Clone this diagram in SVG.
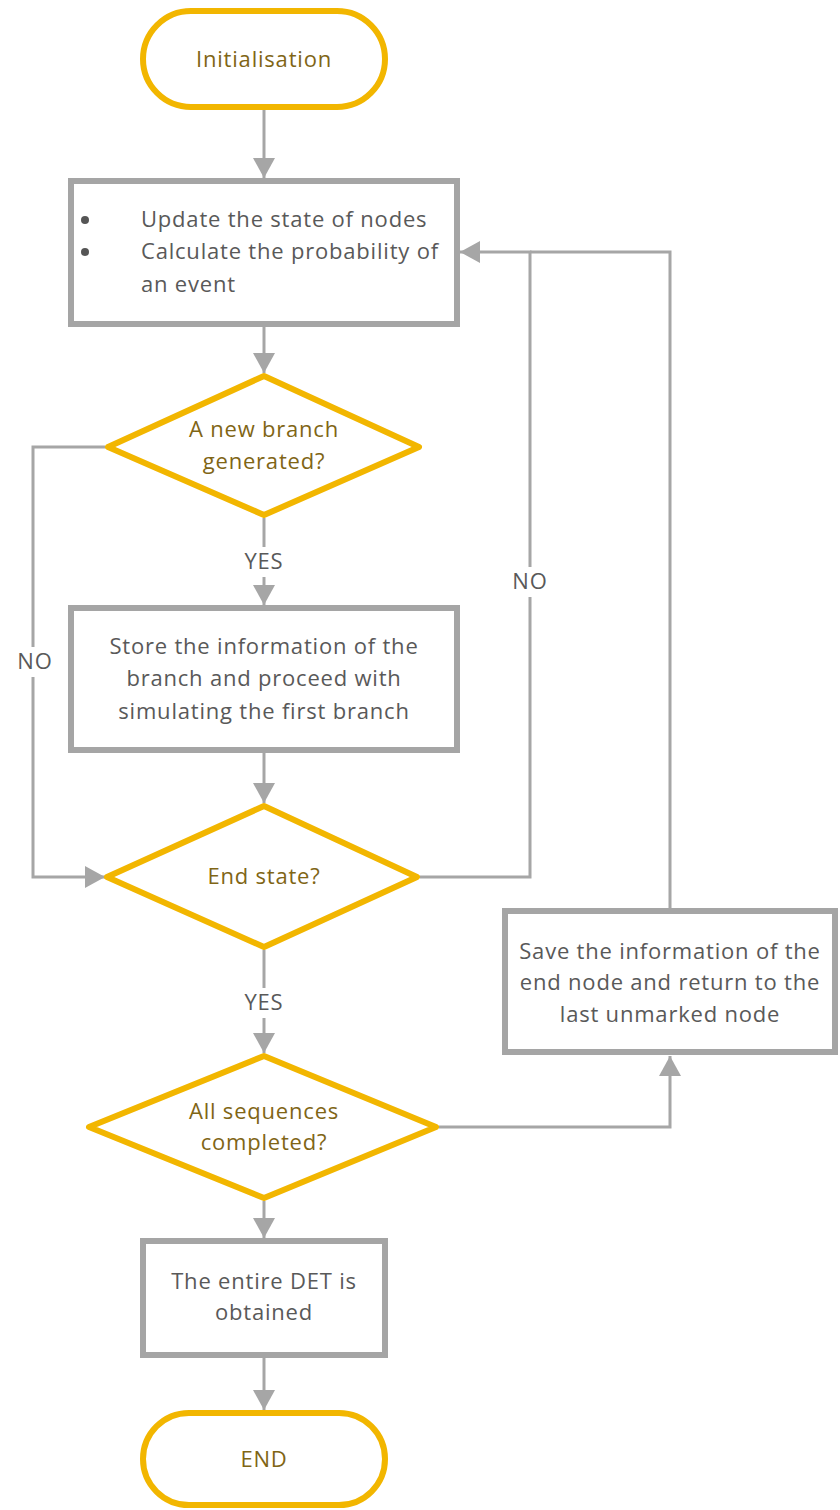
<svg xmlns="http://www.w3.org/2000/svg" width="840" height="1510" viewBox="0 0 840 1510">
<style>
.box{fill:#fff;stroke:#A5A5A5;stroke-width:6}
.term{fill:#fff;stroke:#F2B600;stroke-width:6}
.dia{fill:#fff;stroke:#F2B600;stroke-width:6;stroke-linejoin:round}
.t{font-family:"Open Sans","Liberation Sans",sans-serif;font-size:22px;letter-spacing:0.8px;fill:#595959;text-anchor:middle}
.ty{font-family:"Open Sans","Liberation Sans",sans-serif;font-size:22px;letter-spacing:0.8px;fill:#806515;text-anchor:middle}
.tl{text-anchor:start}
.c{fill:none;stroke:#A6A6A6;stroke-width:3}
.lbg{fill:#fff}
</style>
<defs>
<marker id="ah" markerUnits="userSpaceOnUse" markerWidth="20" markerHeight="22" refX="20" refY="11" orient="auto">
<path d="M0,0 L20,11 L0,22 z" fill="#A6A6A6"/>
</marker>
</defs>
<g id="connectors">
<path class="c" d="M264,110 V178" marker-end="url(#ah)"/>
<path class="c" d="M264,327 V373" marker-end="url(#ah)"/>
<path class="c" d="M264,518 V605" marker-end="url(#ah)"/>
<path class="c" d="M264,753 V803" marker-end="url(#ah)"/>
<path class="c" d="M105,447 H33 V877 H105" marker-end="url(#ah)"/>
<path class="c" d="M670,908 V252 H530"/>
<path class="c" d="M420,877 H530 V252 H460" marker-end="url(#ah)"/>
<path class="c" d="M264,950 V1053" marker-end="url(#ah)"/>
<path class="c" d="M439,1127 H670 V1056" marker-end="url(#ah)"/>
<path class="c" d="M264,1201 V1238" marker-end="url(#ah)"/>
<path class="c" d="M264,1358 V1410" marker-end="url(#ah)"/>
<rect class="lbg" x="240" y="547" width="48" height="30"/>
<text class="t" x="264" y="569">YES</text>
<rect class="lbg" x="240" y="988" width="48" height="30"/>
<text class="t" x="264" y="1010">YES</text>
<rect class="lbg" x="15" y="647" width="40" height="30"/>
<text class="t" x="35" y="669">NO</text>
<rect class="lbg" x="510" y="567" width="40" height="30"/>
<text class="t" x="530" y="589">NO</text>
</g>
<g id="n-init">
<rect class="term" x="143" y="11" width="242" height="96" rx="48" ry="48"/>
<text class="ty" x="264" y="67">Initialisation</text>
</g>
<g id="n-update">
<rect class="box" x="71" y="181" width="386" height="143"/>
<circle cx="85" cy="220" r="4" fill="#555"/>
<circle cx="85" cy="252" r="4" fill="#555"/>
<text class="t tl" x="141" y="227">Update the state of nodes</text>
<text class="t tl" x="141" y="259">Calculate the probability of</text>
<text class="t tl" x="141" y="292">an event</text>
</g>
<g id="n-newbranch">
<polygon class="dia" points="264,376 419,447 264,515 108,447"/>
<text class="ty" x="264" y="437">A new branch</text>
<text class="ty" x="264" y="469">generated?</text>
</g>
<g id="n-store">
<rect class="box" x="71" y="608" width="386" height="142"/>
<text class="t" x="264" y="654">Store the information of the</text>
<text class="t" x="264" y="686">branch and proceed with</text>
<text class="t" x="264" y="719">simulating the first branch</text>
</g>
<g id="n-endstate">
<polygon class="dia" points="264,806 417,877 264,947 107,877"/>
<text class="ty" x="264" y="884">End state?</text>
</g>
<g id="n-save">
<rect class="box" x="505" y="911" width="330" height="141"/>
<text class="t" x="670" y="959">Save the information of the</text>
<text class="t" x="670" y="990">end node and return to the</text>
<text class="t" x="670" y="1022">last unmarked node</text>
</g>
<g id="n-allseq">
<polygon class="dia" points="264,1056 436,1127 264,1198 89,1127"/>
<text class="ty" x="264" y="1119">All sequences</text>
<text class="ty" x="264" y="1150">completed?</text>
</g>
<g id="n-det">
<rect class="box" x="143" y="1241" width="242" height="114"/>
<text class="t" x="264" y="1289">The entire DET is</text>
<text class="t" x="264" y="1320">obtained</text>
</g>
<g id="n-end">
<rect class="term" x="143" y="1413" width="242" height="92" rx="46" ry="46"/>
<text class="ty" x="264" y="1467">END</text>
</g>
</svg>
